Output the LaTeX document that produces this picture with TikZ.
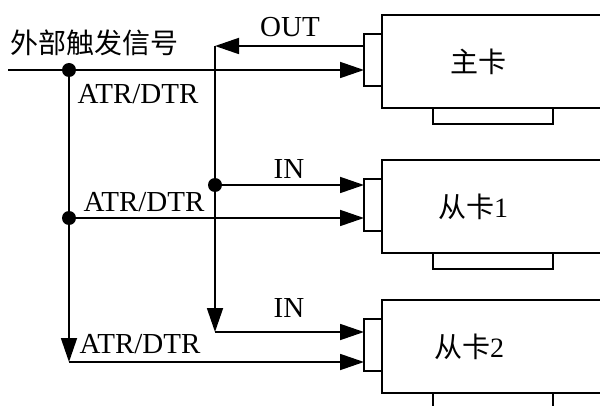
\documentclass[tikz,border=0pt]{standalone}
\usepackage{fontspec}
\setmainfont{Liberation Serif}
\newfontfamily\cjk{Noto Sans CJK SC}
\usetikzlibrary{arrows.meta}
\begin{document}
\begin{tikzpicture}[x=1pt, y=-1pt, line width=1.8pt,
    >={Triangle[length=24pt, width=16pt]},
    dot/.style={circle, fill, inner sep=0pt, minimum size=14pt},
    lbl/.style={font=\fontsize{29}{33}\selectfont, inner sep=0pt},
    cjklbl/.style={font=\fontsize{28}{32}\selectfont\cjk, inner sep=0pt},
    cardbox/.style={draw, line width=1.5pt}]
    \clip (0,0) rectangle (600,406);
% cards: top, label, label x
\foreach \t/\name/\lx in {15/主卡/478, 160/从卡{\rmfamily 1}/473, 300/从卡{\rmfamily 2}/469}
{
    \draw[cardbox] (382,\t) rectangle (620,\t+93);
    \draw[cardbox] (364,\t+19) rectangle (382,\t+71);
    \draw[cardbox] (433,\t+93) rectangle (553,\t+109);
    \node[cjklbl] at (\lx,\t+47) {\name};
}
% ports
\coordinate (mout) at (364,46);
\coordinate (min) at (364,70);
\coordinate (s1in) at (364,185);
\coordinate (s1atr) at (364,218);
\coordinate (s2in) at (364,332);
\coordinate (s2atr) at (364,362);
% junctions
\coordinate (trig) at (8,70);
\node[dot] (ja) at (69,70) {};
\node[dot] (jb) at (69,218) {};
\coordinate (jc) at (69,362);
\coordinate (oa) at (215,46);
\node[dot] (ob) at (215,185) {};
\coordinate (oc) at (215,332);

\draw[->] (trig)--(min);
\draw[->] (ja.center)--(jc);
\draw[->] (jb.center)--(s1atr);
\draw[->] (jc)--(s2atr);
\draw[->] (mout)--(oa);
\draw[->] (oa)--(oc);
\draw[->] (ob.center)--(s1in);
\draw[->] (oc)--(s2in);

\node[cjklbl] (trigtxt) at (94,43) {外部触发信号};
\node[lbl] (outtxt) at (290,27) {OUT};
\node[lbl] (atra) at (138,94) {ATR/DTR};
\node[lbl] (atrb) at (144,202) {ATR/DTR};
\node[lbl] (atrc) at (140,344) {ATR/DTR};
\node[lbl] (ina) at (289,169) {IN};
\node[lbl] (inb) at (289,308) {IN};
\end{tikzpicture}
\end{document}
